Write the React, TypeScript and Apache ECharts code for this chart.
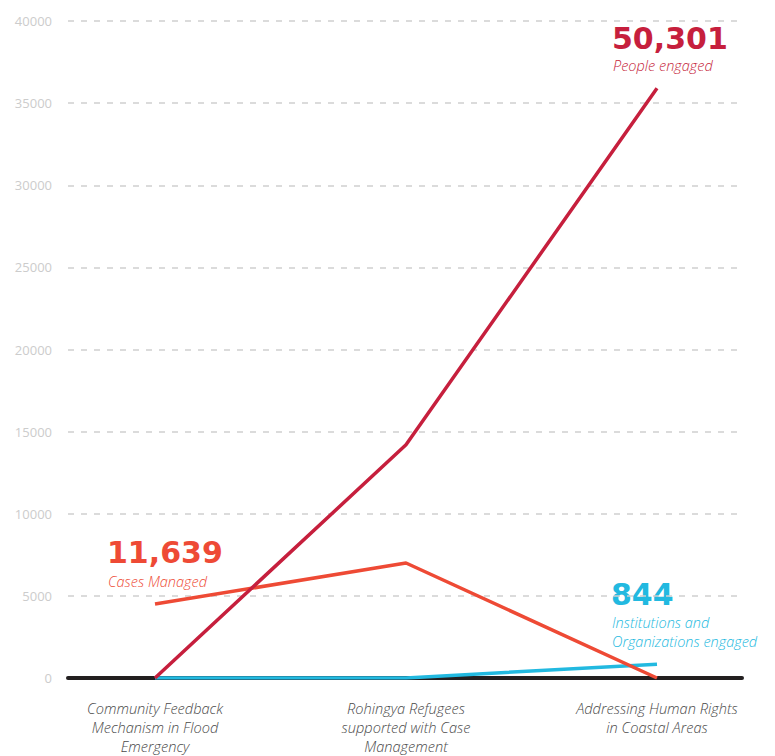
import React, { useEffect, useRef } from "react";
import * as echarts from "echarts";

const categories = [
  "Community Feedback\nMechanism in Flood\nEmergency",
  "Rohingya Refugees\nsupported with Case\nManagement",
  "Addressing Human Rights\nin Coastal Areas",
];
const peopleEngaged = [0, 14200, 35900];
const casesManaged = [4500, 7000, 0];
const institutionsEngaged = [0, 0, 844];
const yTicks = { min: 0, max: 40000, interval: 5000 };

const CRIMSON = "#c61f3d";
const ORANGE = "#ee4a35";
const CYAN = "#22b9e0";

export default function App() {
  const ref = useRef<HTMLDivElement>(null);
  useEffect(() => {
    const chart = echarts.init(ref.current!, null, { renderer: "svg" });
    const numFont = "bold 30px 'DejaVu Sans', sans-serif";
    const subFont = "italic 300 14.5px 'Open Sans', sans-serif";
    const num = (x: number, y: number, text: string, fill: string) => ({
      type: "text",
      x,
      y,
      style: { text, fill, font: numFont, verticalAlign: "middle", lineHeight: 24 },
    });
    const sub = (x: number, y: number, text: string, fill: string) => ({
      type: "text",
      x,
      y,
      style: { text, fill, font: subFont, verticalAlign: "middle", lineHeight: 16 },
    });
    chart.setOption({
      animation: false,
      grid: [
        { left: 68, right: 33, top: 21, bottom: 78 },
        { left: 155, right: 118, top: 21, bottom: 78 },
      ],
      xAxis: [
        {
          gridIndex: 0,
          type: "category",
          data: [""],
          axisLine: { show: true, lineStyle: { color: "#231f20", width: 4 } },
          axisTick: { show: false },
          axisLabel: { show: false },
          splitLine: { show: false },
        },
        {
          gridIndex: 1,
          type: "category",
          boundaryGap: false,
          data: categories,
          axisLine: { show: false },
          axisTick: { show: false },
          splitLine: { show: false },
          axisLabel: {
            interval: 0,
            margin: 20,
            color: "#4a4a4a",
            fontSize: 14.6,
            fontStyle: "italic",
            fontFamily: "'Open Sans', sans-serif",
            fontWeight: 300,
            lineHeight: 19,
            align: "center",
          },
        },
      ],
      yAxis: [
        {
          gridIndex: 0,
          type: "value",
          ...yTicks,
          axisLine: { show: false },
          axisTick: { show: false },
          axisLabel: {
            color: "#cccccc",
            fontSize: 13,
            margin: 16,
            fontFamily: "'Open Sans', sans-serif",
            formatter: (v: number) => String(v),
          },
          splitLine: {
            show: true,
            lineStyle: { color: "#cfcfcf", width: 1.5, type: [6, 7] },
          },
        },
        {
          gridIndex: 1,
          type: "value",
          ...yTicks,
          show: false,
          splitLine: { show: false },
        },
      ],
      series: [
        {
          type: "line",
          xAxisIndex: 1,
          yAxisIndex: 1,
          data: institutionsEngaged,
          showSymbol: false,
          lineStyle: { color: CYAN, width: 3.5 },
          itemStyle: { color: CYAN },
        },
        {
          type: "line",
          xAxisIndex: 1,
          yAxisIndex: 1,
          data: casesManaged,
          showSymbol: false,
          lineStyle: { color: ORANGE, width: 3.5 },
          itemStyle: { color: ORANGE },
        },
        {
          type: "line",
          xAxisIndex: 1,
          yAxisIndex: 1,
          data: peopleEngaged,
          showSymbol: false,
          lineStyle: { color: CRIMSON, width: 3.5 },
          itemStyle: { color: CRIMSON },
        },
      ],
      graphic: [
        num(612, 38, "50,301", CRIMSON),
        sub(613, 65, "People engaged", CRIMSON),
        num(107, 552, "11,639", ORANGE),
        sub(108, 581, "Cases Managed", ORANGE),
        num(611, 594, "844", CYAN),
        sub(612, 622, "Institutions and", CYAN),
        sub(612, 641, "Organizations engaged", CYAN),
      ],
    });
    return () => chart.dispose();
  }, []);
  return (
    <div
      ref={ref}
      style={{ position: "absolute", left: 0, top: 0, width: 775, height: 756 }}
    />
  );
}
